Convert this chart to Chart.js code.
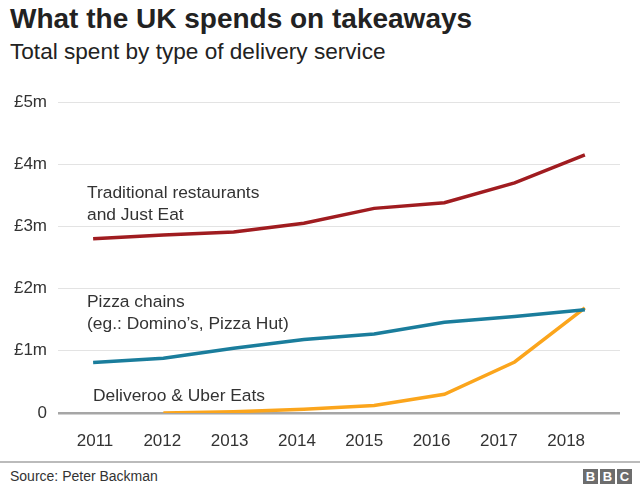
<!DOCTYPE html>
<html>
<head>
<meta charset="utf-8">
<script src="https://cdn.jsdelivr.net/npm/chart.js@4/dist/chart.umd.min.js"></script>
<style>
  html, body { margin: 0; padding: 0; background: #fff; }
  body { width: 640px; height: 489px; position: relative; overflow: hidden; font-family: "Liberation Sans", Arial, sans-serif; color: #222; }
  #title { position: absolute; left: 10px; top: 3px; font-size: 28px; font-weight: bold; color: #222; white-space: nowrap; }
  #subtitle { position: absolute; left: 10px; top: 39px; font-size: 22.6px; color: #222; white-space: nowrap; }
  #wrap { position: absolute; left: 0; top: 80px; width: 640px; height: 380px; }
  #rule { position: absolute; left: 0; top: 461px; width: 640px; height: 2px; background: #bbb; }
  #source { position: absolute; left: 10px; top: 468px; font-size: 14px; color: #333; white-space: nowrap; }
  #bbc { position: absolute; left: 583px; top: 469px; display: flex; gap: 2px; }
  #bbc span { width: 15px; height: 15px; background: #6d6d6d; color: #fff; font-weight: bold; font-size: 13px; line-height: 15px; text-align: center; display: block; }
</style>
</head>
<body>
<div id="title">What the UK spends on takeaways</div>
<div id="subtitle">Total spent by type of delivery service</div>
<div id="wrap"><canvas id="c" width="640" height="380"></canvas></div>
<div id="rule"></div>
<div id="source">Source: Peter Backman</div>
<div id="bbc"><span>B</span><span>B</span><span>C</span></div>
<script>
const years = [2011, 2012, 2013, 2014, 2015, 2016, 2017, 2018];
const traditional = [2.80, 2.86, 2.91, 3.05, 3.29, 3.38, 3.70, 4.15];
const pizza = [0.81, 0.88, 1.04, 1.18, 1.27, 1.46, 1.55, 1.66];
const deliveroo = [null, 0.00, 0.02, 0.06, 0.12, 0.30, 0.82, 1.69];
const yTicks = [0, 1, 2, 3, 4, 5];
const yTickLabels = ['0', '£1m', '£2m', '£3m', '£4m', '£5m'];
const annotations = [
  { lines: ['Traditional restaurants', 'and Just Eat'], x: 87, y: 113 },
  { lines: ['Pizza chains', '(eg.: Domino\u2019s, Pizza Hut)'], x: 87, y: 222 },
  { lines: ['Deliveroo & Uber Eats'], x: 93, y: 316 }
];
const FONT = '"Liberation Sans", Arial, sans-serif';

const labelPlugin = {
  id: 'labels',
  afterDatasetsDraw(chart) {
    const ctx = chart.ctx;
    ctx.save();
    ctx.font = '17.4px ' + FONT;
    ctx.fillStyle = '#333';
    ctx.textBaseline = 'middle';
    ctx.textAlign = 'left';
    annotations.forEach(a => {
      a.lines.forEach((l, i) => ctx.fillText(l, a.x, a.y + i * 22));
    });
    ctx.restore();
  }
};

new Chart(document.getElementById('c'), {
  type: 'line',
  data: {
    labels: years.map(String),
    datasets: [
      { data: traditional, borderColor: '#a01c20', borderWidth: 3.5, pointRadius: 0, tension: 0, xAxisID: 'x', yAxisID: 'y' },
      { data: pizza, borderColor: '#1a7d9c', borderWidth: 3.5, pointRadius: 0, tension: 0, xAxisID: 'x', yAxisID: 'y' },
      { data: deliveroo, borderColor: '#fba51c', borderWidth: 3.5, pointRadius: 0, tension: 0, xAxisID: 'x', yAxisID: 'y' }
    ]
  },
  options: {
    responsive: false,
    animation: false,
    events: [],
    layout: { padding: { top: 22, right: 20, left: 0, bottom: 0 } },
    plugins: { legend: { display: false }, tooltip: { enabled: false } },
    scales: {
      x: { type: 'category', offset: true, display: false },
      x2: {
        type: 'linear', position: 'bottom', min: 2010.45, max: 2018.8,
        grid: { display: false, drawTicks: false },
        border: { display: false },
        afterBuildTicks: s => { s.ticks = years.map(v => ({ value: v })); },
        afterFit: s => { s.height = 47; },
        ticks: { padding: 18, color: '#333', font: { size: 17, family: FONT }, callback: v => String(v), maxRotation: 0, autoSkip: false }
      },
      y: {
        min: 0, max: 5,
        afterBuildTicks: s => { s.ticks = yTicks.map(v => ({ value: v })); },
        afterFit: s => { s.width = 58; },
        border: { display: false },
        grid: {
          drawTicks: false,
          color: c => c.tick && c.tick.value === 0 ? '#a6a6a6' : '#e3e3e3',
          lineWidth: c => c.tick && c.tick.value === 0 ? 2.5 : 1
        },
        ticks: { padding: 11, color: '#333', font: { size: 17, family: FONT }, callback: v => yTickLabels[yTicks.indexOf(v)] }
      }
    }
  },
  plugins: [labelPlugin]
});
</script>
</body>
</html>
